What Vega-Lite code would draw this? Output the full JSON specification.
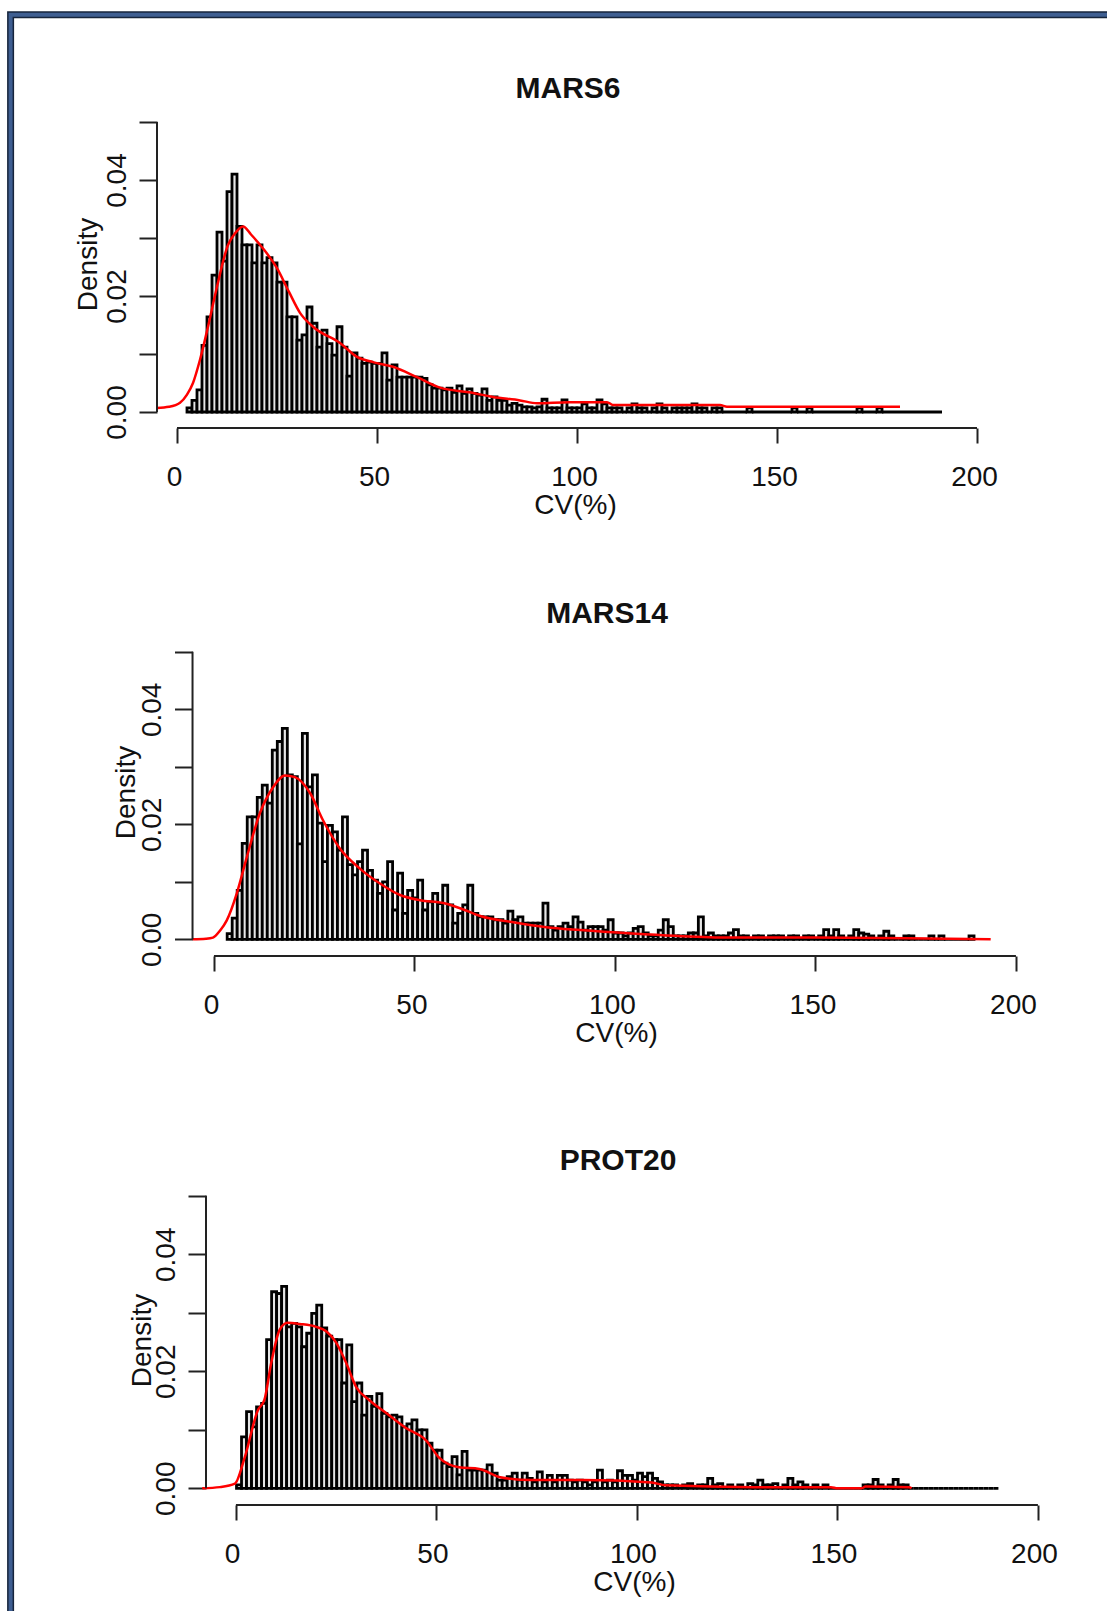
{
"$schema": "https://vega.github.io/schema/vega-lite/v6.json",
"padding": {"left": 7, "top": 11, "right": 0, "bottom": 0},
"background": "#ffffff",
"bounds": "flush",
"spacing": 200,
"config": {"view": {"stroke": null}, "font": "Liberation Sans"},
"datasets": {
"bars": [
{"p":1,"lo":2.5,"hi":3.75,"d":0.0007},{"p":1,"lo":3.75,"hi":5,"d":0.002},{"p":1,"lo":5,"hi":6.25,"d":0.0038},{"p":1,"lo":6.25,"hi":7.5,"d":0.0115},
{"p":1,"lo":7.5,"hi":8.75,"d":0.0164},{"p":1,"lo":8.75,"hi":10,"d":0.0236},{"p":1,"lo":10,"hi":11.25,"d":0.031},{"p":1,"lo":11.25,"hi":12.5,"d":0.026},
{"p":1,"lo":12.5,"hi":13.75,"d":0.038},{"p":1,"lo":13.75,"hi":15,"d":0.041},{"p":1,"lo":15,"hi":16.25,"d":0.032},{"p":1,"lo":16.25,"hi":17.5,"d":0.0288},
{"p":1,"lo":17.5,"hi":18.75,"d":0.0288},{"p":1,"lo":18.75,"hi":20,"d":0.0257},{"p":1,"lo":20,"hi":21.25,"d":0.0288},{"p":1,"lo":21.25,"hi":22.5,"d":0.0257},
{"p":1,"lo":22.5,"hi":23.75,"d":0.0266},{"p":1,"lo":23.75,"hi":25,"d":0.0257},{"p":1,"lo":25,"hi":26.25,"d":0.0224},{"p":1,"lo":26.25,"hi":27.5,"d":0.0224},
{"p":1,"lo":27.5,"hi":28.75,"d":0.0164},{"p":1,"lo":28.75,"hi":30,"d":0.0164},{"p":1,"lo":30,"hi":31.25,"d":0.0124},{"p":1,"lo":31.25,"hi":32.5,"d":0.0133},
{"p":1,"lo":32.5,"hi":33.75,"d":0.0181},{"p":1,"lo":33.75,"hi":35,"d":0.0153},{"p":1,"lo":35,"hi":36.25,"d":0.0112},{"p":1,"lo":36.25,"hi":37.5,"d":0.0141},
{"p":1,"lo":37.5,"hi":38.75,"d":0.0118},{"p":1,"lo":38.75,"hi":40,"d":0.0098},{"p":1,"lo":40,"hi":41.25,"d":0.0147},{"p":1,"lo":41.25,"hi":42.5,"d":0.0112},
{"p":1,"lo":42.5,"hi":43.75,"d":0.0062},{"p":1,"lo":43.75,"hi":45,"d":0.0102},{"p":1,"lo":45,"hi":46.25,"d":0.0093},{"p":1,"lo":46.25,"hi":47.5,"d":0.0084},
{"p":1,"lo":47.5,"hi":48.75,"d":0.0086},{"p":1,"lo":48.75,"hi":50,"d":0.0084},{"p":1,"lo":50,"hi":51.25,"d":0.0084},{"p":1,"lo":51.25,"hi":52.5,"d":0.0102},
{"p":1,"lo":52.5,"hi":53.75,"d":0.0055},{"p":1,"lo":53.75,"hi":55,"d":0.0081},{"p":1,"lo":55,"hi":56.25,"d":0.006},{"p":1,"lo":56.25,"hi":57.5,"d":0.006},
{"p":1,"lo":57.5,"hi":58.75,"d":0.006},{"p":1,"lo":58.75,"hi":60,"d":0.006},{"p":1,"lo":60,"hi":61.25,"d":0.006},{"p":1,"lo":61.25,"hi":62.5,"d":0.0058},
{"p":1,"lo":62.5,"hi":63.75,"d":0.0047},{"p":1,"lo":63.75,"hi":65,"d":0.0041},{"p":1,"lo":65,"hi":66.25,"d":0.0041},{"p":1,"lo":66.25,"hi":67.5,"d":0.0038},
{"p":1,"lo":67.5,"hi":68.75,"d":0.0041},{"p":1,"lo":68.75,"hi":70,"d":0.0034},{"p":1,"lo":70,"hi":71.25,"d":0.0045},{"p":1,"lo":71.25,"hi":72.5,"d":0.0032},
{"p":1,"lo":72.5,"hi":73.75,"d":0.004},{"p":1,"lo":73.75,"hi":75,"d":0.0032},{"p":1,"lo":75,"hi":76.25,"d":0.0029},{"p":1,"lo":76.25,"hi":77.5,"d":0.004},
{"p":1,"lo":77.5,"hi":78.75,"d":0.002},{"p":1,"lo":78.75,"hi":80,"d":0.0026},{"p":1,"lo":80,"hi":81.25,"d":0.002},{"p":1,"lo":81.25,"hi":82.5,"d":0.002},
{"p":1,"lo":82.5,"hi":83.75,"d":0.0012},{"p":1,"lo":83.75,"hi":85,"d":0.0015},{"p":1,"lo":85,"hi":86.25,"d":0.0012},{"p":1,"lo":86.25,"hi":87.5,"d":0.0009},
{"p":1,"lo":87.5,"hi":88.75,"d":0.0009},{"p":1,"lo":88.75,"hi":90,"d":0.0007},{"p":1,"lo":90,"hi":91.25,"d":0.0009},{"p":1,"lo":91.25,"hi":92.5,"d":0.0022},
{"p":1,"lo":92.5,"hi":93.75,"d":0.0007},{"p":1,"lo":93.75,"hi":95,"d":0.0007},{"p":1,"lo":95,"hi":96.25,"d":0.0007},{"p":1,"lo":96.25,"hi":97.5,"d":0.0021},
{"p":1,"lo":97.5,"hi":98.75,"d":0.0007},{"p":1,"lo":98.75,"hi":100,"d":0.0007},{"p":1,"lo":100,"hi":101.25,"d":0.0007},{"p":1,"lo":101.25,"hi":102.5,"d":0.0014},
{"p":1,"lo":102.5,"hi":103.75,"d":0.0007},{"p":1,"lo":103.75,"hi":105,"d":0.0007},{"p":1,"lo":105,"hi":106.25,"d":0.0021},{"p":1,"lo":106.25,"hi":107.5,"d":0.0014},
{"p":1,"lo":107.5,"hi":108.75,"d":0.0007},{"p":1,"lo":108.75,"hi":110,"d":0.0007},{"p":1,"lo":110,"hi":111.25,"d":0.0007},{"p":1,"lo":111.25,"hi":112.5,"d":0},
{"p":1,"lo":112.5,"hi":113.75,"d":0.0007},{"p":1,"lo":113.75,"hi":115,"d":0.0014},{"p":1,"lo":115,"hi":116.25,"d":0.0007},{"p":1,"lo":116.25,"hi":117.5,"d":0.0007},
{"p":1,"lo":117.5,"hi":118.75,"d":0},{"p":1,"lo":118.75,"hi":120,"d":0.0007},{"p":1,"lo":120,"hi":121.25,"d":0.0014},{"p":1,"lo":121.25,"hi":122.5,"d":0.0007},
{"p":1,"lo":122.5,"hi":123.75,"d":0},{"p":1,"lo":123.75,"hi":125,"d":0.0007},{"p":1,"lo":125,"hi":126.25,"d":0.0007},{"p":1,"lo":126.25,"hi":127.5,"d":0.0007},
{"p":1,"lo":127.5,"hi":128.75,"d":0.0007},{"p":1,"lo":128.75,"hi":130,"d":0.0014},{"p":1,"lo":130,"hi":131.25,"d":0.0007},{"p":1,"lo":131.25,"hi":132.5,"d":0.0007},
{"p":1,"lo":132.5,"hi":133.75,"d":0},{"p":1,"lo":133.75,"hi":135,"d":0.0007},{"p":1,"lo":135,"hi":136.25,"d":0.0007},{"p":1,"lo":136.25,"hi":137.5,"d":0},
{"p":1,"lo":137.5,"hi":138.75,"d":0},{"p":1,"lo":138.75,"hi":140,"d":0},{"p":1,"lo":140,"hi":141.25,"d":0},{"p":1,"lo":141.25,"hi":142.5,"d":0},
{"p":1,"lo":142.5,"hi":143.75,"d":0.0007},{"p":1,"lo":143.75,"hi":145,"d":0},{"p":1,"lo":145,"hi":146.25,"d":0},{"p":1,"lo":146.25,"hi":147.5,"d":0},
{"p":1,"lo":147.5,"hi":148.75,"d":0},{"p":1,"lo":148.75,"hi":150,"d":0},{"p":1,"lo":150,"hi":151.25,"d":0},{"p":1,"lo":151.25,"hi":152.5,"d":0},
{"p":1,"lo":152.5,"hi":153.75,"d":0},{"p":1,"lo":153.75,"hi":155,"d":0.0007},{"p":1,"lo":155,"hi":156.25,"d":0},{"p":1,"lo":156.25,"hi":157.5,"d":0},
{"p":1,"lo":157.5,"hi":158.75,"d":0.0007},{"p":1,"lo":158.75,"hi":160,"d":0},{"p":1,"lo":160,"hi":161.25,"d":0},{"p":1,"lo":161.25,"hi":162.5,"d":0},
{"p":1,"lo":162.5,"hi":163.75,"d":0},{"p":1,"lo":163.75,"hi":165,"d":0},{"p":1,"lo":165,"hi":166.25,"d":0},{"p":1,"lo":166.25,"hi":167.5,"d":0},
{"p":1,"lo":167.5,"hi":168.75,"d":0},{"p":1,"lo":168.75,"hi":170,"d":0},{"p":1,"lo":170,"hi":171.25,"d":0.0007},{"p":1,"lo":171.25,"hi":172.5,"d":0},
{"p":1,"lo":172.5,"hi":173.75,"d":0},{"p":1,"lo":173.75,"hi":175,"d":0},{"p":1,"lo":175,"hi":176.25,"d":0.0007},{"p":1,"lo":176.25,"hi":177.5,"d":0},
{"p":1,"lo":177.5,"hi":178.75,"d":0},{"p":1,"lo":178.75,"hi":180,"d":0},{"p":1,"lo":180,"hi":181.25,"d":0},{"p":1,"lo":181.25,"hi":182.5,"d":0},
{"p":1,"lo":182.5,"hi":183.75,"d":0},{"p":1,"lo":183.75,"hi":185,"d":0},{"p":1,"lo":185,"hi":186.25,"d":0},{"p":1,"lo":186.25,"hi":187.5,"d":0},
{"p":1,"lo":187.5,"hi":188.75,"d":0},{"p":1,"lo":188.75,"hi":190,"d":0},{"p":1,"lo":190,"hi":191.25,"d":0},

{"p":2,"lo":3.3,"hi":4.55,"d":0.001},{"p":2,"lo":4.55,"hi":5.8,"d":0.0037},{"p":2,"lo":5.8,"hi":7.05,"d":0.0085},{"p":2,"lo":7.05,"hi":8.3,"d":0.0167},
{"p":2,"lo":8.3,"hi":9.55,"d":0.0213},{"p":2,"lo":9.55,"hi":10.8,"d":0.0213},{"p":2,"lo":10.8,"hi":12.05,"d":0.0247},{"p":2,"lo":12.05,"hi":13.3,"d":0.0268},
{"p":2,"lo":13.3,"hi":14.55,"d":0.0237},{"p":2,"lo":14.55,"hi":15.8,"d":0.0329},{"p":2,"lo":15.8,"hi":17.05,"d":0.0344},{"p":2,"lo":17.05,"hi":18.3,"d":0.0367},
{"p":2,"lo":18.3,"hi":19.55,"d":0.0286},{"p":2,"lo":19.55,"hi":20.8,"d":0.0283},{"p":2,"lo":20.8,"hi":22.05,"d":0.0166},{"p":2,"lo":22.05,"hi":23.3,"d":0.0358},
{"p":2,"lo":23.3,"hi":24.55,"d":0.0265},{"p":2,"lo":24.55,"hi":25.8,"d":0.0286},{"p":2,"lo":25.8,"hi":27.05,"d":0.0202},{"p":2,"lo":27.05,"hi":28.3,"d":0.0135},
{"p":2,"lo":28.3,"hi":29.55,"d":0.0198},{"p":2,"lo":29.55,"hi":30.8,"d":0.0187},{"p":2,"lo":30.8,"hi":32.05,"d":0.0155},{"p":2,"lo":32.05,"hi":33.3,"d":0.0213},
{"p":2,"lo":33.3,"hi":34.55,"d":0.013},{"p":2,"lo":34.55,"hi":35.8,"d":0.0112},{"p":2,"lo":35.8,"hi":37.05,"d":0.0135},{"p":2,"lo":37.05,"hi":38.3,"d":0.0155},
{"p":2,"lo":38.3,"hi":39.55,"d":0.012},{"p":2,"lo":39.55,"hi":40.8,"d":0.0103},{"p":2,"lo":40.8,"hi":42.05,"d":0.008},{"p":2,"lo":42.05,"hi":43.3,"d":0.01},
{"p":2,"lo":43.3,"hi":44.55,"d":0.0135},{"p":2,"lo":44.55,"hi":45.8,"d":0.0051},{"p":2,"lo":45.8,"hi":47.05,"d":0.0115},{"p":2,"lo":47.05,"hi":48.3,"d":0.0045},
{"p":2,"lo":48.3,"hi":49.55,"d":0.0085},{"p":2,"lo":49.55,"hi":50.8,"d":0.0072},{"p":2,"lo":50.8,"hi":52.05,"d":0.0103},{"p":2,"lo":52.05,"hi":53.3,"d":0.0051},
{"p":2,"lo":53.3,"hi":54.55,"d":0.0065},{"p":2,"lo":54.55,"hi":55.8,"d":0.008},{"p":2,"lo":55.8,"hi":57.05,"d":0.0062},{"p":2,"lo":57.05,"hi":58.3,"d":0.0094},
{"p":2,"lo":58.3,"hi":59.55,"d":0.006},{"p":2,"lo":59.55,"hi":60.8,"d":0.0028},{"p":2,"lo":60.8,"hi":62.05,"d":0.0045},{"p":2,"lo":62.05,"hi":63.3,"d":0.006},
{"p":2,"lo":63.3,"hi":64.55,"d":0.0094},{"p":2,"lo":64.55,"hi":65.8,"d":0.0045},{"p":2,"lo":65.8,"hi":67.05,"d":0.0039},{"p":2,"lo":67.05,"hi":68.3,"d":0.0039},
{"p":2,"lo":68.3,"hi":69.55,"d":0.0039},{"p":2,"lo":69.55,"hi":70.8,"d":0.0034},{"p":2,"lo":70.8,"hi":72.05,"d":0.0034},{"p":2,"lo":72.05,"hi":73.3,"d":0.0028},
{"p":2,"lo":73.3,"hi":74.55,"d":0.0049},{"p":2,"lo":74.55,"hi":75.8,"d":0.0034},{"p":2,"lo":75.8,"hi":77.05,"d":0.0039},{"p":2,"lo":77.05,"hi":78.3,"d":0.0028},
{"p":2,"lo":78.3,"hi":79.55,"d":0.0028},{"p":2,"lo":79.55,"hi":80.8,"d":0.0028},{"p":2,"lo":80.8,"hi":82.05,"d":0.0028},{"p":2,"lo":82.05,"hi":83.3,"d":0.0063},
{"p":2,"lo":83.3,"hi":84.55,"d":0.0022},{"p":2,"lo":84.55,"hi":85.8,"d":0.0016},{"p":2,"lo":85.8,"hi":87.05,"d":0.0022},{"p":2,"lo":87.05,"hi":88.3,"d":0.0028},
{"p":2,"lo":88.3,"hi":89.55,"d":0.0022},{"p":2,"lo":89.55,"hi":90.8,"d":0.0039},{"p":2,"lo":90.8,"hi":92.05,"d":0.003},{"p":2,"lo":92.05,"hi":93.3,"d":0.0016},
{"p":2,"lo":93.3,"hi":94.55,"d":0.0022},{"p":2,"lo":94.55,"hi":95.8,"d":0.0022},{"p":2,"lo":95.8,"hi":97.05,"d":0.0022},{"p":2,"lo":97.05,"hi":98.3,"d":0.0016},
{"p":2,"lo":98.3,"hi":99.55,"d":0.0034},{"p":2,"lo":99.55,"hi":100.8,"d":0.0011},{"p":2,"lo":100.8,"hi":102.05,"d":0.0011},{"p":2,"lo":102.05,"hi":103.3,"d":0.0006},
{"p":2,"lo":103.3,"hi":104.55,"d":0.0011},{"p":2,"lo":104.55,"hi":105.8,"d":0.0019},{"p":2,"lo":105.8,"hi":107.05,"d":0.0022},{"p":2,"lo":107.05,"hi":108.3,"d":0.0011},
{"p":2,"lo":108.3,"hi":109.55,"d":0.0006},{"p":2,"lo":109.55,"hi":110.8,"d":0.0006},{"p":2,"lo":110.8,"hi":112.05,"d":0.0016},{"p":2,"lo":112.05,"hi":113.3,"d":0.0034},
{"p":2,"lo":113.3,"hi":114.55,"d":0.0022},{"p":2,"lo":114.55,"hi":115.8,"d":0.0006},{"p":2,"lo":115.8,"hi":117.05,"d":0.0006},{"p":2,"lo":117.05,"hi":118.3,"d":0.0006},
{"p":2,"lo":118.3,"hi":119.55,"d":0.0011},{"p":2,"lo":119.55,"hi":120.8,"d":0.0011},{"p":2,"lo":120.8,"hi":122.05,"d":0.0039},{"p":2,"lo":122.05,"hi":123.3,"d":0.0006},
{"p":2,"lo":123.3,"hi":124.55,"d":0.0011},{"p":2,"lo":124.55,"hi":125.8,"d":0.0006},{"p":2,"lo":125.8,"hi":127.05,"d":0.0006},{"p":2,"lo":127.05,"hi":128.3,"d":0.0006},
{"p":2,"lo":128.3,"hi":129.55,"d":0.0011},{"p":2,"lo":129.55,"hi":130.8,"d":0.0017},{"p":2,"lo":130.8,"hi":132.05,"d":0.0006},{"p":2,"lo":132.05,"hi":133.3,"d":0.0006},
{"p":2,"lo":133.3,"hi":134.55,"d":0},{"p":2,"lo":134.55,"hi":135.8,"d":0.0006},{"p":2,"lo":135.8,"hi":137.05,"d":0.0006},{"p":2,"lo":137.05,"hi":138.3,"d":0},
{"p":2,"lo":138.3,"hi":139.55,"d":0.0006},{"p":2,"lo":139.55,"hi":140.8,"d":0.0006},{"p":2,"lo":140.8,"hi":142.05,"d":0.0006},{"p":2,"lo":142.05,"hi":143.3,"d":0},
{"p":2,"lo":143.3,"hi":144.55,"d":0.0006},{"p":2,"lo":144.55,"hi":145.8,"d":0.0006},{"p":2,"lo":145.8,"hi":147.05,"d":0},{"p":2,"lo":147.05,"hi":148.3,"d":0.0006},
{"p":2,"lo":148.3,"hi":149.55,"d":0.0006},{"p":2,"lo":149.55,"hi":150.8,"d":0},{"p":2,"lo":150.8,"hi":152.05,"d":0.0006},{"p":2,"lo":152.05,"hi":153.3,"d":0.0017},
{"p":2,"lo":153.3,"hi":154.55,"d":0.0006},{"p":2,"lo":154.55,"hi":155.8,"d":0.0017},{"p":2,"lo":155.8,"hi":157.05,"d":0.0006},{"p":2,"lo":157.05,"hi":158.3,"d":0},
{"p":2,"lo":158.3,"hi":159.55,"d":0.0006},{"p":2,"lo":159.55,"hi":160.8,"d":0.0017},{"p":2,"lo":160.8,"hi":162.05,"d":0.0011},{"p":2,"lo":162.05,"hi":163.3,"d":0.0009},
{"p":2,"lo":163.3,"hi":164.55,"d":0.0006},{"p":2,"lo":164.55,"hi":165.8,"d":0},{"p":2,"lo":165.8,"hi":167.05,"d":0.0006},{"p":2,"lo":167.05,"hi":168.3,"d":0.0014},
{"p":2,"lo":168.3,"hi":169.55,"d":0.0006},{"p":2,"lo":169.55,"hi":170.8,"d":0},{"p":2,"lo":170.8,"hi":172.05,"d":0},{"p":2,"lo":172.05,"hi":173.3,"d":0.0006},
{"p":2,"lo":173.3,"hi":174.55,"d":0.0006},{"p":2,"lo":174.55,"hi":175.8,"d":0},{"p":2,"lo":175.8,"hi":177.05,"d":0},{"p":2,"lo":177.05,"hi":178.3,"d":0},
{"p":2,"lo":178.3,"hi":179.55,"d":0.0006},{"p":2,"lo":179.55,"hi":180.8,"d":0},{"p":2,"lo":180.8,"hi":182.05,"d":0.0006},{"p":2,"lo":182.05,"hi":183.3,"d":0},
{"p":2,"lo":183.3,"hi":184.55,"d":0},{"p":2,"lo":184.55,"hi":185.8,"d":0},{"p":2,"lo":185.8,"hi":187.05,"d":0},{"p":2,"lo":187.05,"hi":188.3,"d":0},
{"p":2,"lo":188.3,"hi":189.55,"d":0.0006},

{"p":3,"lo":0.15,"hi":1.4,"d":0.0006},{"p":3,"lo":1.4,"hi":2.65,"d":0.0088},{"p":3,"lo":2.65,"hi":3.9,"d":0.0131},{"p":3,"lo":3.9,"hi":5.15,"d":0.0105},
{"p":3,"lo":5.15,"hi":6.4,"d":0.0139},{"p":3,"lo":6.4,"hi":7.65,"d":0.0145},{"p":3,"lo":7.65,"hi":8.9,"d":0.0254},{"p":3,"lo":8.9,"hi":10.15,"d":0.0336},
{"p":3,"lo":10.15,"hi":11.4,"d":0.0333},{"p":3,"lo":11.4,"hi":12.65,"d":0.0345},{"p":3,"lo":12.65,"hi":13.9,"d":0.0276},{"p":3,"lo":13.9,"hi":15.15,"d":0.0282},
{"p":3,"lo":15.15,"hi":16.4,"d":0.0276},{"p":3,"lo":16.4,"hi":17.65,"d":0.0242},{"p":3,"lo":17.65,"hi":18.9,"d":0.0265},{"p":3,"lo":18.9,"hi":20.15,"d":0.0299},
{"p":3,"lo":20.15,"hi":21.4,"d":0.0313},{"p":3,"lo":21.4,"hi":22.65,"d":0.0274},{"p":3,"lo":22.65,"hi":23.9,"d":0.026},{"p":3,"lo":23.9,"hi":25.15,"d":0.0254},
{"p":3,"lo":25.15,"hi":26.4,"d":0.0254},{"p":3,"lo":26.4,"hi":27.65,"d":0.018},{"p":3,"lo":27.65,"hi":28.9,"d":0.0245},{"p":3,"lo":28.9,"hi":30.15,"d":0.0148},
{"p":3,"lo":30.15,"hi":31.4,"d":0.018},{"p":3,"lo":31.4,"hi":32.65,"d":0.0125},{"p":3,"lo":32.65,"hi":33.9,"d":0.0157},{"p":3,"lo":33.9,"hi":35.15,"d":0.014},
{"p":3,"lo":35.15,"hi":36.4,"d":0.0162},{"p":3,"lo":36.4,"hi":37.65,"d":0.0128},{"p":3,"lo":37.65,"hi":38.9,"d":0.0122},{"p":3,"lo":38.9,"hi":40.15,"d":0.0125},
{"p":3,"lo":40.15,"hi":41.4,"d":0.0122},{"p":3,"lo":41.4,"hi":42.65,"d":0.0105},{"p":3,"lo":42.65,"hi":43.9,"d":0.011},{"p":3,"lo":43.9,"hi":45.15,"d":0.0117},
{"p":3,"lo":45.15,"hi":46.4,"d":0.01},{"p":3,"lo":46.4,"hi":47.65,"d":0.01},{"p":3,"lo":47.65,"hi":48.9,"d":0.0077},{"p":3,"lo":48.9,"hi":50.15,"d":0.0065},
{"p":3,"lo":50.15,"hi":51.4,"d":0.0065},{"p":3,"lo":51.4,"hi":52.65,"d":0.0043},{"p":3,"lo":52.65,"hi":53.9,"d":0.0037},{"p":3,"lo":53.9,"hi":55.15,"d":0.0054},
{"p":3,"lo":55.15,"hi":56.4,"d":0.0023},{"p":3,"lo":56.4,"hi":57.65,"d":0.0063},{"p":3,"lo":57.65,"hi":58.9,"d":0.0031},{"p":3,"lo":58.9,"hi":60.15,"d":0.0031},
{"p":3,"lo":60.15,"hi":61.4,"d":0.0031},{"p":3,"lo":61.4,"hi":62.65,"d":0.0031},{"p":3,"lo":62.65,"hi":63.9,"d":0.004},{"p":3,"lo":63.9,"hi":65.15,"d":0.0026},
{"p":3,"lo":65.15,"hi":66.4,"d":0.0014},{"p":3,"lo":66.4,"hi":67.65,"d":0.0014},{"p":3,"lo":67.65,"hi":68.9,"d":0.002},{"p":3,"lo":68.9,"hi":70.15,"d":0.0026},
{"p":3,"lo":70.15,"hi":71.4,"d":0.0014},{"p":3,"lo":71.4,"hi":72.65,"d":0.0026},{"p":3,"lo":72.65,"hi":73.9,"d":0.0017},{"p":3,"lo":73.9,"hi":75.15,"d":0.0011},
{"p":3,"lo":75.15,"hi":76.4,"d":0.0028},{"p":3,"lo":76.4,"hi":77.65,"d":0.0011},{"p":3,"lo":77.65,"hi":78.9,"d":0.0022},{"p":3,"lo":78.9,"hi":80.15,"d":0.0011},
{"p":3,"lo":80.15,"hi":81.4,"d":0.0022},{"p":3,"lo":81.4,"hi":82.65,"d":0.0022},{"p":3,"lo":82.65,"hi":83.9,"d":0.0014},{"p":3,"lo":83.9,"hi":85.15,"d":0.0011},
{"p":3,"lo":85.15,"hi":86.4,"d":0.0014},{"p":3,"lo":86.4,"hi":87.65,"d":0.0011},{"p":3,"lo":87.65,"hi":88.9,"d":0.0006},{"p":3,"lo":88.9,"hi":90.15,"d":0.0011},
{"p":3,"lo":90.15,"hi":91.4,"d":0.0031},{"p":3,"lo":91.4,"hi":92.65,"d":0.0011},{"p":3,"lo":92.65,"hi":93.9,"d":0.0014},{"p":3,"lo":93.9,"hi":95.15,"d":0.0011},
{"p":3,"lo":95.15,"hi":96.4,"d":0.003},{"p":3,"lo":96.4,"hi":97.65,"d":0.0022},{"p":3,"lo":97.65,"hi":98.9,"d":0.0022},{"p":3,"lo":98.9,"hi":100.15,"d":0.0014},
{"p":3,"lo":100.15,"hi":101.4,"d":0.0026},{"p":3,"lo":101.4,"hi":102.65,"d":0.002},{"p":3,"lo":102.65,"hi":103.9,"d":0.0026},{"p":3,"lo":103.9,"hi":105.15,"d":0.0017},
{"p":3,"lo":105.15,"hi":106.4,"d":0.0011},{"p":3,"lo":106.4,"hi":107.65,"d":0.0006},{"p":3,"lo":107.65,"hi":108.9,"d":0.0006},{"p":3,"lo":108.9,"hi":110.15,"d":0.0006},
{"p":3,"lo":110.15,"hi":111.4,"d":0},{"p":3,"lo":111.4,"hi":112.65,"d":0.0006},{"p":3,"lo":112.65,"hi":113.9,"d":0.0008},{"p":3,"lo":113.9,"hi":115.15,"d":0},
{"p":3,"lo":115.15,"hi":116.4,"d":0.0006},{"p":3,"lo":116.4,"hi":117.65,"d":0.0006},{"p":3,"lo":117.65,"hi":118.9,"d":0.0017},{"p":3,"lo":118.9,"hi":120.15,"d":0.0006},
{"p":3,"lo":120.15,"hi":121.4,"d":0.0008},{"p":3,"lo":121.4,"hi":122.65,"d":0},{"p":3,"lo":122.65,"hi":123.9,"d":0.0006},{"p":3,"lo":123.9,"hi":125.15,"d":0},
{"p":3,"lo":125.15,"hi":126.4,"d":0.0006},{"p":3,"lo":126.4,"hi":127.65,"d":0},{"p":3,"lo":127.65,"hi":128.9,"d":0.0008},{"p":3,"lo":128.9,"hi":130.15,"d":0.0006},
{"p":3,"lo":130.15,"hi":131.4,"d":0.0014},{"p":3,"lo":131.4,"hi":132.65,"d":0.0006},{"p":3,"lo":132.65,"hi":133.9,"d":0.0006},{"p":3,"lo":133.9,"hi":135.15,"d":0.0008},
{"p":3,"lo":135.15,"hi":136.4,"d":0},{"p":3,"lo":136.4,"hi":137.65,"d":0.0006},{"p":3,"lo":137.65,"hi":138.9,"d":0.0017},{"p":3,"lo":138.9,"hi":140.15,"d":0.0006},
{"p":3,"lo":140.15,"hi":141.4,"d":0.0011},{"p":3,"lo":141.4,"hi":142.65,"d":0.0006},{"p":3,"lo":142.65,"hi":143.9,"d":0},{"p":3,"lo":143.9,"hi":145.15,"d":0.0006},
{"p":3,"lo":145.15,"hi":146.4,"d":0},{"p":3,"lo":146.4,"hi":147.65,"d":0.0006},{"p":3,"lo":147.65,"hi":148.9,"d":0},{"p":3,"lo":148.9,"hi":150.15,"d":0},
{"p":3,"lo":150.15,"hi":151.4,"d":0},{"p":3,"lo":151.4,"hi":152.65,"d":0},{"p":3,"lo":152.65,"hi":153.9,"d":0},{"p":3,"lo":153.9,"hi":155.15,"d":0},
{"p":3,"lo":155.15,"hi":156.4,"d":0},{"p":3,"lo":156.4,"hi":157.65,"d":0.0006},{"p":3,"lo":157.65,"hi":158.9,"d":0.0006},{"p":3,"lo":158.9,"hi":160.15,"d":0.0015},
{"p":3,"lo":160.15,"hi":161.4,"d":0.0006},{"p":3,"lo":161.4,"hi":162.65,"d":0},{"p":3,"lo":162.65,"hi":163.9,"d":0.0006},{"p":3,"lo":163.9,"hi":165.15,"d":0.0015},
{"p":3,"lo":165.15,"hi":166.4,"d":0.0006},{"p":3,"lo":166.4,"hi":167.65,"d":0.0006},{"p":3,"lo":167.65,"hi":168.9,"d":0},{"p":3,"lo":168.9,"hi":170.15,"d":0},
{"p":3,"lo":170.15,"hi":171.4,"d":0},{"p":3,"lo":171.4,"hi":172.65,"d":0},{"p":3,"lo":172.65,"hi":173.9,"d":0},{"p":3,"lo":173.9,"hi":175.15,"d":0},
{"p":3,"lo":175.15,"hi":176.4,"d":0},{"p":3,"lo":176.4,"hi":177.65,"d":0},{"p":3,"lo":177.65,"hi":178.9,"d":0},{"p":3,"lo":178.9,"hi":180.15,"d":0},
{"p":3,"lo":180.15,"hi":181.4,"d":0},{"p":3,"lo":181.4,"hi":182.65,"d":0},{"p":3,"lo":182.65,"hi":183.9,"d":0},{"p":3,"lo":183.9,"hi":185.15,"d":0},
{"p":3,"lo":185.15,"hi":186.4,"d":0},{"p":3,"lo":186.4,"hi":187.65,"d":0},{"p":3,"lo":187.65,"hi":188.9,"d":0},{"p":3,"lo":188.9,"hi":190.15,"d":0}
],
"curve": [
{"p":1,"x":-5,"y":0.0007},{"p":1,"x":-2,"y":0.0009},{"p":1,"x":0.75,"y":0.0016},{"p":1,"x":2.5,"y":0.003},{"p":1,"x":4,"y":0.005},
{"p":1,"x":5.75,"y":0.009},{"p":1,"x":7.75,"y":0.0147},{"p":1,"x":10,"y":0.0216},{"p":1,"x":12.75,"y":0.0288},{"p":1,"x":14.5,"y":0.0308},
{"p":1,"x":16.5,"y":0.032},{"p":1,"x":18.5,"y":0.0306},{"p":1,"x":21.5,"y":0.0282},{"p":1,"x":25,"y":0.0248},{"p":1,"x":28,"y":0.0207},
{"p":1,"x":30.75,"y":0.0171},{"p":1,"x":34,"y":0.0147},{"p":1,"x":40.75,"y":0.0119},{"p":1,"x":45,"y":0.0095},{"p":1,"x":49,"y":0.0086},
{"p":1,"x":54,"y":0.0078},{"p":1,"x":60,"y":0.006},{"p":1,"x":65.75,"y":0.0042},{"p":1,"x":73,"y":0.0034},{"p":1,"x":79,"y":0.0026},
{"p":1,"x":85.75,"y":0.002},{"p":1,"x":90,"y":0.0015},{"p":1,"x":98,"y":0.0017},{"p":1,"x":107.5,"y":0.0017},{"p":1,"x":109,"y":0.0012},
{"p":1,"x":135.75,"y":0.0012},{"p":1,"x":137.5,"y":0.0009},{"p":1,"x":180.75,"y":0.0009},

{"p":2,"x":-5.3,"y":0},{"p":2,"x":-2,"y":0.0001},{"p":2,"x":-0.25,"y":0.0003},{"p":2,"x":1.5,"y":0.0015},{"p":2,"x":3.2,"y":0.0033},
{"p":2,"x":5.7,"y":0.008},{"p":2,"x":8.2,"y":0.0143},{"p":2,"x":11.5,"y":0.022},{"p":2,"x":14.7,"y":0.0264},{"p":2,"x":17.7,"y":0.0285},
{"p":2,"x":20.2,"y":0.0282},{"p":2,"x":24,"y":0.0254},{"p":2,"x":27.2,"y":0.0207},{"p":2,"x":31.4,"y":0.0158},{"p":2,"x":36.4,"y":0.0123},
{"p":2,"x":41.4,"y":0.0097},{"p":2,"x":46.4,"y":0.0077},{"p":2,"x":51.4,"y":0.0068},{"p":2,"x":57.2,"y":0.0063},{"p":2,"x":61.4,"y":0.0054},
{"p":2,"x":66.6,"y":0.004},{"p":2,"x":74.3,"y":0.003},{"p":2,"x":82.9,"y":0.0021},{"p":2,"x":91.4,"y":0.0016},{"p":2,"x":104.3,"y":0.001},
{"p":2,"x":115,"y":0.0006},{"p":2,"x":128.4,"y":0.0003},{"p":2,"x":150,"y":0.0003},{"p":2,"x":173,"y":0.0002},{"p":2,"x":193.7,"y":0},

{"p":3,"x":-8.4,"y":0},{"p":3,"x":-4,"y":0.0002},{"p":3,"x":-0.25,"y":0.0008},{"p":3,"x":2.2,"y":0.0053},{"p":3,"x":5.5,"y":0.0134},
{"p":3,"x":7.1,"y":0.0151},{"p":3,"x":8.8,"y":0.0214},{"p":3,"x":10.9,"y":0.0271},{"p":3,"x":12.9,"y":0.0283},{"p":3,"x":15.9,"y":0.0281},
{"p":3,"x":20,"y":0.0276},{"p":3,"x":22.6,"y":0.0268},{"p":3,"x":25,"y":0.0249},{"p":3,"x":27.5,"y":0.0214},{"p":3,"x":30,"y":0.0173},
{"p":3,"x":33.2,"y":0.0151},{"p":3,"x":37.4,"y":0.0129},{"p":3,"x":42.4,"y":0.0103},{"p":3,"x":47.4,"y":0.0082},{"p":3,"x":50.6,"y":0.0053},
{"p":3,"x":55.6,"y":0.0036},{"p":3,"x":60.7,"y":0.0033},{"p":3,"x":65.9,"y":0.0019},{"p":3,"x":73.6,"y":0.0014},{"p":3,"x":86.5,"y":0.0014},
{"p":3,"x":103.7,"y":0.001},{"p":3,"x":107.1,"y":0.0005},{"p":3,"x":129.4,"y":0.0002},{"p":3,"x":148.4,"y":0.0002},{"p":3,"x":150,"y":0},
{"p":3,"x":156,"y":0},{"p":3,"x":157,"y":0.0003},{"p":3,"x":168,"y":0.0002},{"p":3,"x":168.5,"y":0}
]
},
"vconcat": [
{
"width": 900, "height": 328,
"title": {"text": "MARS6", "frame": "group", "anchor": "middle", "dx": -39, "offset": -117, "baseline": "alphabetic", "fontSize": 30, "fontWeight": "bold", "font": "Liberation Sans", "color": "#111111"},
"layer": [
{"data": {"values": [{}]}, "mark": {"type": "rect", "filled": false, "color": "#16243b", "strokeWidth": 7},
 "encoding": {"x": {"datum": -41.6, "type": "quantitative", "scale": {"domain": [-5, 220], "nice": false, "zero": false}}, "x2": {"datum": 237},
  "y": {"datum": 0.0685, "type": "quantitative", "scale": {"domain": [-0.002759, 0.053793], "nice": false, "zero": false}}, "y2": {"datum": -0.21}}},
{"data": {"values": [{}]}, "mark": {"type": "rect", "filled": false, "color": "#3e5e91", "strokeWidth": 4},
 "encoding": {"x": {"datum": -41.6, "type": "quantitative", "scale": {"domain": [-5, 220], "nice": false, "zero": false}}, "x2": {"datum": 237},
  "y": {"datum": 0.0685, "type": "quantitative", "scale": {"domain": [-0.002759, 0.053793], "nice": false, "zero": false}}, "y2": {"datum": -0.21}}},
{"data": {"name": "bars"}, "transform": [{"filter": "datum.p == 1"}],
 "mark": {"type": "rect", "fill": "#e6e6e6", "stroke": "#000000", "strokeWidth": 2.8},
 "encoding": {
  "x": {"field": "lo", "type": "quantitative", "title": "CV(%)", "scale": {"domain": [-5, 220], "nice": false, "zero": false},
   "axis": {"values": [0, 50, 100, 150, 200], "format": "d", "domain": false, "grid": false, "tickSize": 15, "tickWidth": 2, "tickColor": "#222222", "labelFontSize": 28, "labelFont": "Liberation Sans", "labelColor": "#111111", "labelPadding": 20, "labelOffset": -3, "labelFlush": false, "labelOverlap": false, "title": "CV(%)", "titleFontSize": 28, "titleFont": "Liberation Sans", "titleFontWeight": "normal", "titleColor": "#111111", "titlePadding": 0, "titleX": 418, "titleAlign": "center"}},
  "x2": {"field": "hi"},
  "y": {"field": "d", "type": "quantitative", "title": "Density", "scale": {"domain": [-0.002759, 0.053793], "nice": false, "zero": false},
   "axis": {"values": [0, 0.01, 0.02, 0.03, 0.04, 0.05], "labelExpr": "round(datum.value*100) % 2 == 0 ? format(datum.value, '.2f') : ''", "domain": false, "grid": false, "tickSize": 18, "tickWidth": 2, "tickColor": "#222222", "labelAngle": 270, "labelAlign": "center", "labelBaseline": "bottom", "labelFontSize": 28, "labelFont": "Liberation Sans", "labelColor": "#111111", "labelPadding": 8, "labelFlush": false, "labelOverlap": false, "title": "Density", "titleFontSize": 28, "titleFont": "Liberation Sans", "titleFontWeight": "normal", "titleColor": "#111111", "titlePadding": 1, "offset": 0}},
  "y2": {"datum": 0}}},
{"data": {"name": "curve"}, "transform": [{"filter": "datum.p == 1"}],
 "mark": {"type": "line", "color": "#ff0000", "strokeWidth": 2.5, "interpolate": "monotone"},
 "encoding": {"x": {"field": "x", "type": "quantitative", "title": "CV(%)", "scale": {"domain": [-5, 220], "nice": false, "zero": false}},
  "y": {"field": "y", "type": "quantitative", "title": "Density", "scale": {"domain": [-0.002759, 0.053793], "nice": false, "zero": false}}}},
{"data": {"values": [{}]}, "mark": {"type": "rule", "color": "#222222", "strokeWidth": 2},
 "encoding": {"x": {"datum": 0, "type": "quantitative", "scale": {"domain": [-5, 220], "nice": false, "zero": false}}, "x2": {"datum": 200},
  "y": {"datum": -0.002759, "type": "quantitative", "scale": {"domain": [-0.002759, 0.053793], "nice": false, "zero": false}}}},
{"data": {"values": [{}]}, "mark": {"type": "rule", "color": "#222222", "strokeWidth": 2},
 "encoding": {"x": {"datum": -5, "type": "quantitative", "scale": {"domain": [-5, 220], "nice": false, "zero": false}},
  "y": {"datum": 0, "type": "quantitative", "scale": {"domain": [-0.002759, 0.053793], "nice": false, "zero": false}}, "y2": {"datum": 0.05}}}
]
},
{
"width": 900, "height": 328,
"title": {"text": "MARS14", "frame": "group", "anchor": "middle", "dx": 0, "offset": -25.3, "baseline": "alphabetic", "fontSize": 30, "fontWeight": "bold", "font": "Liberation Sans", "color": "#111111"},
"layer": [
{"data": {"name": "bars"}, "transform": [{"filter": "datum.p == 2"}],
 "mark": {"type": "rect", "fill": "#e6e6e6", "stroke": "#000000", "strokeWidth": 2.8},
 "encoding": {
  "x": {"field": "lo", "type": "quantitative", "title": "CV(%)", "scale": {"domain": [-14.2, 210.24], "nice": false, "zero": false},
   "axis": {"values": [0, 50, 100, 150, 200], "format": "d", "domain": false, "grid": false, "tickSize": 15, "tickWidth": 2, "tickColor": "#222222", "labelFontSize": 28, "labelFont": "Liberation Sans", "labelColor": "#111111", "labelPadding": 20, "labelOffset": -3, "labelFlush": false, "labelOverlap": false, "title": "CV(%)", "titleFontSize": 28, "titleFont": "Liberation Sans", "titleFontWeight": "normal", "titleColor": "#111111", "titlePadding": 0, "titleX": 459, "titleAlign": "center"}},
  "x2": {"field": "hi"},
  "y": {"field": "d", "type": "quantitative", "title": "Density", "scale": {"domain": [-0.002904, 0.054139], "nice": false, "zero": false},
   "axis": {"values": [0, 0.01, 0.02, 0.03, 0.04, 0.05], "labelExpr": "round(datum.value*100) % 2 == 0 ? format(datum.value, '.2f') : ''", "domain": false, "grid": false, "tickSize": 18, "tickWidth": 2, "tickColor": "#222222", "labelAngle": 270, "labelAlign": "center", "labelBaseline": "bottom", "labelFontSize": 28, "labelFont": "Liberation Sans", "labelColor": "#111111", "labelPadding": 8, "labelFlush": false, "labelOverlap": false, "title": "Density", "titleFontSize": 28, "titleFont": "Liberation Sans", "titleFontWeight": "normal", "titleColor": "#111111", "titlePadding": -2, "offset": -35.5}},
  "y2": {"datum": 0}}},
{"data": {"name": "curve"}, "transform": [{"filter": "datum.p == 2"}],
 "mark": {"type": "line", "color": "#ff0000", "strokeWidth": 2.5, "interpolate": "monotone"},
 "encoding": {"x": {"field": "x", "type": "quantitative", "title": "CV(%)", "scale": {"domain": [-14.2, 210.24], "nice": false, "zero": false}},
  "y": {"field": "y", "type": "quantitative", "title": "Density", "scale": {"domain": [-0.002904, 0.054139], "nice": false, "zero": false}}}},
{"data": {"values": [{}]}, "mark": {"type": "rule", "color": "#222222", "strokeWidth": 2},
 "encoding": {"x": {"datum": 0, "type": "quantitative", "scale": {"domain": [-14.2, 210.24], "nice": false, "zero": false}}, "x2": {"datum": 200},
  "y": {"datum": -0.002904, "type": "quantitative", "scale": {"domain": [-0.002904, 0.054139], "nice": false, "zero": false}}}},
{"data": {"values": [{}]}, "mark": {"type": "rule", "color": "#222222", "strokeWidth": 2},
 "encoding": {"x": {"datum": -5.34, "type": "quantitative", "scale": {"domain": [-14.2, 210.24], "nice": false, "zero": false}},
  "y": {"datum": 0, "type": "quantitative", "scale": {"domain": [-0.002904, 0.054139], "nice": false, "zero": false}}, "y2": {"datum": 0.05}}}
]
},
{
"width": 900, "height": 349,
"title": {"text": "PROT20", "frame": "group", "anchor": "middle", "dx": 11, "offset": -43.8, "baseline": "alphabetic", "fontSize": 30, "fontWeight": "bold", "font": "Liberation Sans", "color": "#111111"},
"layer": [
{"data": {"name": "bars"}, "transform": [{"filter": "datum.p == 3"}],
 "mark": {"type": "rect", "fill": "#e6e6e6", "stroke": "#000000", "strokeWidth": 2.8},
 "encoding": {
  "x": {"field": "lo", "type": "quantitative", "title": "CV(%)", "scale": {"domain": [-19.68, 204.76], "nice": false, "zero": false},
   "axis": {"values": [0, 50, 100, 150, 200], "format": "d", "domain": false, "grid": false, "tickSize": 15, "tickWidth": 2, "tickColor": "#222222", "labelFontSize": 28, "labelFont": "Liberation Sans", "labelColor": "#111111", "labelPadding": 20, "labelOffset": -4, "labelFlush": false, "labelOverlap": false, "title": "CV(%)", "titleFontSize": 28, "titleFont": "Liberation Sans", "titleFontWeight": "normal", "titleColor": "#111111", "titlePadding": 0, "titleX": 477, "titleAlign": "center"}},
  "x2": {"field": "hi"},
  "y": {"field": "d", "type": "quantitative", "title": "Density", "scale": {"domain": [-0.002855, 0.056803], "nice": false, "zero": false},
   "axis": {"values": [0, 0.01, 0.02, 0.03, 0.04, 0.05], "labelExpr": "round(datum.value*100) % 2 == 0 ? format(datum.value, '.2f') : ''", "domain": false, "grid": false, "tickSize": 18, "tickWidth": 2, "tickColor": "#222222", "labelAngle": 270, "labelAlign": "center", "labelBaseline": "bottom", "labelFontSize": 28, "labelFont": "Liberation Sans", "labelColor": "#111111", "labelPadding": 8, "labelFlush": false, "labelOverlap": false, "title": "Density", "titleFontSize": 28, "titleFont": "Liberation Sans", "titleFontWeight": "normal", "titleColor": "#111111", "titlePadding": -4, "titleY": 184, "offset": -49}},
  "y2": {"datum": 0}}},
{"data": {"name": "curve"}, "transform": [{"filter": "datum.p == 3"}],
 "mark": {"type": "line", "color": "#ff0000", "strokeWidth": 2.5, "interpolate": "monotone"},
 "encoding": {"x": {"field": "x", "type": "quantitative", "title": "CV(%)", "scale": {"domain": [-19.68, 204.76], "nice": false, "zero": false}},
  "y": {"field": "y", "type": "quantitative", "title": "Density", "scale": {"domain": [-0.002855, 0.056803], "nice": false, "zero": false}}}},
{"data": {"values": [{}]}, "mark": {"type": "rule", "color": "#222222", "strokeWidth": 2},
 "encoding": {"x": {"datum": 0, "type": "quantitative", "scale": {"domain": [-19.68, 204.76], "nice": false, "zero": false}}, "x2": {"datum": 200},
  "y": {"datum": -0.002855, "type": "quantitative", "scale": {"domain": [-0.002855, 0.056803], "nice": false, "zero": false}}}},
{"data": {"values": [{}]}, "mark": {"type": "rule", "color": "#222222", "strokeWidth": 2},
 "encoding": {"x": {"datum": -7.46, "type": "quantitative", "scale": {"domain": [-19.68, 204.76], "nice": false, "zero": false}},
  "y": {"datum": 0, "type": "quantitative", "scale": {"domain": [-0.002855, 0.056803], "nice": false, "zero": false}}, "y2": {"datum": 0.05}}}
]
}
]
}
